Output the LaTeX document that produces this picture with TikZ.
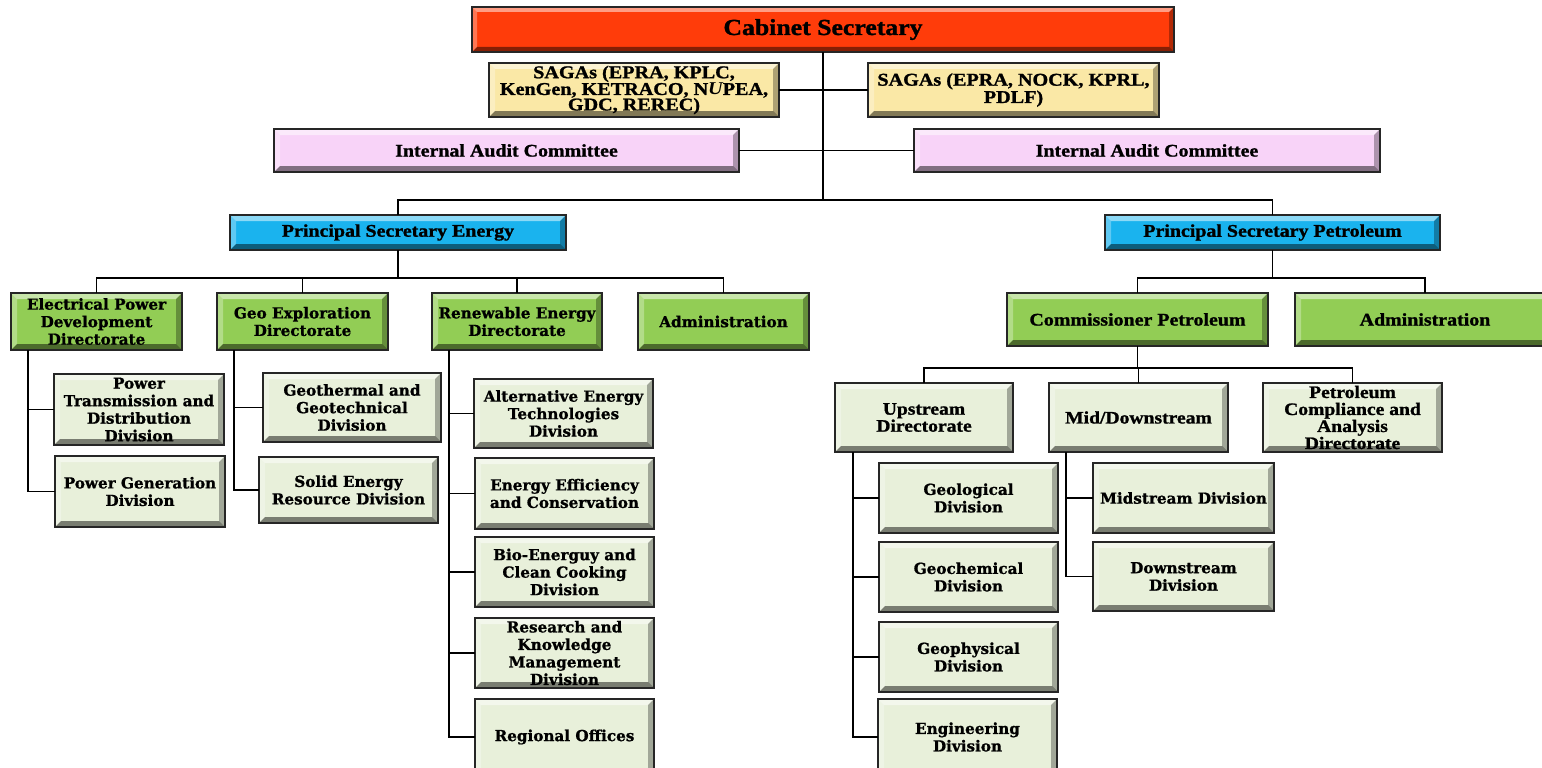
\documentclass[tikz,border=0pt]{standalone}
\usepackage{fontspec}
\setmainfont{Liberation Serif}[FakeStretch=1.12,BoldFeatures={FakeBold=1.2}]
\newfontfamily\centfont{DejaVu Serif}[BoldFeatures={FakeBold=1}]
\definecolor{cabc}{HTML}{FF3C0A}
\definecolor{sagc}{HTML}{FAE8A6}
\definecolor{audc}{HTML}{F8D3F8}
\definecolor{psc}{HTML}{1AB3EE}
\definecolor{grnc}{HTML}{92CD55}
\definecolor{palec}{HTML}{E8F0DA}
\newcommand\orgbox[7]{\node[#6, minimum width={(#4-#2)*1pt}, minimum height={(#5-#3)*1pt}] (#1) at ({(#2+#4)/2},{(#3+#5)/2}) {#7};}
\tikzset{
  bevel/.style={path picture={
    \fill[white,opacity=.5] (path picture bounding box.north west) -- (path picture bounding box.north east) -- ([shift={(-#1,-#1)}]path picture bounding box.north east) -- ([shift={(#1,-#1)}]path picture bounding box.north west) -- cycle;
    \fill[white,opacity=.3] (path picture bounding box.north west) -- ([shift={(#1,-#1)}]path picture bounding box.north west) -- ([shift={(#1,#1)}]path picture bounding box.south west) -- (path picture bounding box.south west) -- cycle;
    \fill[black,opacity=.3] (path picture bounding box.north east) -- ([shift={(-#1,-#1)}]path picture bounding box.north east) -- ([shift={(-#1,#1)}]path picture bounding box.south east) -- (path picture bounding box.south east) -- cycle;
    \fill[black,opacity=.48] (path picture bounding box.south west) -- ([shift={(#1,#1)}]path picture bounding box.south west) -- ([shift={(-#1,#1)}]path picture bounding box.south east) -- (path picture bounding box.south east) -- cycle;
  }},
  bevel/.default=6pt,
  basebox/.style={draw=black!85, line width=1.2pt, inner sep=0pt, outer sep=0pt, align=center, bevel},
  tfont/.style={font=\bfseries\fontsize{17.8}{17.5}\selectfont},
  cfont/.style={font=\centfont\bfseries\fontsize{15.2}{17.5}\selectfont},
  cabbox/.style={basebox, fill=cabc, bevel=5pt, font=\bfseries\fontsize{23}{23}\selectfont},
  sagbox/.style={basebox, fill=sagc, font=\bfseries\fontsize{18}{15.5}\selectfont},
  audbox/.style={basebox, fill=audc, tfont},
  psbox/.style={basebox, fill=psc, tfont},
  grnc/.style={basebox, fill=grnc, cfont},
  grnt/.style={basebox, fill=grnc, tfont},
  palec/.style={basebox, fill=palec, cfont},
  palet/.style={basebox, fill=palec, font=\bfseries\fontsize{17.5}{17}\selectfont},
  link/.style={draw=black, line width=1.6pt},
}
\begin{document}
\begin{tikzpicture}[x=1pt,y=-1pt]
\useasboundingbox[fill=white] (0,0) rectangle (1542,768);
% top levels
\orgbox{cab}{472}{7}{1174}{52}{cabbox}{Cabinet Secretary}
\orgbox{sagl}{489}{63}{779}{117}{sagbox}{SAGAs (EPRA, KPLC,\\ KenGen, KETRACO, N{\itshape U}PEA,\\ GDC, REREC)}
\orgbox{sagr}{868}{63}{1159}{117}{sagbox}{SAGAs (EPRA, NOCK, KPRL,\\ PDLF)}
\orgbox{audl}{274}{129}{739}{172}{audbox}{Internal Audit Committee}
\orgbox{audr}{914}{129}{1380}{172}{audbox}{Internal Audit Committee}
\orgbox{pse}{230}{215}{566}{250}{psbox}{Principal Secretary Energy}
\orgbox{psp}{1105}{215}{1440}{250}{psbox}{Principal Secretary Petroleum}
% energy directorates
\orgbox{epd}{11}{293}{182}{350}{grnc}{Electrical Power\\ Development\\ Directorate}
\orgbox{geo}{217}{293}{388}{350}{grnc}{Geo Exploration\\ Directorate}
\orgbox{ren}{432}{293}{602}{350}{grnc}{Renewable Energy\\ Directorate}
\orgbox{adma}{638}{293}{809}{350}{grnc}{Administration}
% petroleum
\orgbox{com}{1007}{293}{1268}{346}{grnt}{Commissioner Petroleum}
\orgbox{admb}{1295}{293}{1555}{346}{grnt}{Administration}
% energy divisions
\orgbox{ptd}{54}{374}{224}{445}{palec}{Power\\ Transmission and\\ Distribution\\ Division}
\orgbox{pgd}{55}{456}{225}{527}{palec}{Power Generation\\ Division}
\orgbox{ggd}{263}{373}{441}{442}{palec}{Geothermal and\\ Geotechnical\\ Division}
\orgbox{sed}{259}{457}{438}{523}{palec}{Solid Energy\\ Resource Division}
\orgbox{aet}{474}{379}{653}{448}{palec}{Alternative Energy\\ Technologies\\ Division}
\orgbox{eec}{475}{458}{654}{529}{palec}{Energy Efficiency\\ and Conservation}
\orgbox{bio}{475}{537}{654}{607}{palec}{Bio-Energuy and\\ Clean Cooking\\ Division}
\orgbox{rkm}{475}{618}{654}{688}{palec}{Research and\\ Knowledge\\ Management\\ Division}
\orgbox{reg}{475}{699}{654}{775}{palec}{Regional Offices}
% petroleum directorates
\orgbox{ups}{835}{383}{1013}{452}{palet}{Upstream\\ Directorate}
\orgbox{mds}{1049}{383}{1228}{452}{palet}{Mid/Downstream}
\orgbox{pca}{1263}{383}{1442}{452}{palet}{Petroleum\\ Compliance and\\ Analysis\\ Directorate}
\orgbox{gld}{879}{463}{1058}{533}{palec}{Geological\\ Division}
\orgbox{gcd}{879}{542}{1058}{612}{palec}{Geochemical\\ Division}
\orgbox{gpd}{879}{622}{1058}{692}{palec}{Geophysical\\ Division}
\orgbox{engd}{878}{699}{1057}{775}{palec}{Engineering\\ Division}
\orgbox{msd}{1093}{463}{1274}{533}{palec}{Midstream Division}
\orgbox{dsd}{1093}{542}{1274}{611}{palec}{Downstream\\ Division}
% connectors
\coordinate (j1) at (823,200);
\coordinate (j2) at (398,278);
\coordinate (j3) at (1272.5,278);
\coordinate (j4) at (1137.5,368);
\draw[link] (cab.south) -- (j1);
\draw[link] (sagl.east) -- (sagr.west);
\draw[link] (audl.east) -- (audr.west);
\draw[link] (pse.north) |- (j1) -| (psp.north);
\draw[link] (pse.south) -- (j2);
\draw[link] (epd.north) |- (j2) -| (adma.north);
\draw[link] (geo.north) -- (geo.north |- j2);
\draw[link] (ren.north) -- (ren.north |- j2);
\draw[link] (psp.south) -- (j3);
\draw[link] (com.north) |- (j3) -| (admb.north);
\draw[link] (com.south) -- (j4);
\draw[link] (ups.north) |- (j4) -| (pca.north);
\draw[link] (mds.north) -- (mds.north |- j4);
% sub-trees
\draw[link] (epd.south west) ++(17,0) |- (ptd.west);
\draw[link] (epd.south west) ++(17,0) |- (pgd.west);
\draw[link] (geo.south west) ++(17,0) |- (ggd.west);
\draw[link] (geo.south west) ++(17,0) |- (sed.west);
\draw[link] (ren.south west) ++(17,0) |- (aet.west);
\draw[link] (ren.south west) ++(17,0) |- (eec.west);
\draw[link] (ren.south west) ++(17,0) |- (bio.west);
\draw[link] (ren.south west) ++(17,0) |- (rkm.west);
\draw[link] (ren.south west) ++(17,0) |- (reg.west);
\draw[link] (ups.south west) ++(18,0) |- (gld.west);
\draw[link] (ups.south west) ++(18,0) |- (gcd.west);
\draw[link] (ups.south west) ++(18,0) |- (gpd.west);
\draw[link] (ups.south west) ++(18,0) |- (engd.west);
\draw[link] (mds.south west) ++(17,0) |- (msd.west);
\draw[link] (mds.south west) ++(17,0) |- (dsd.west);
\end{tikzpicture}
\end{document}
